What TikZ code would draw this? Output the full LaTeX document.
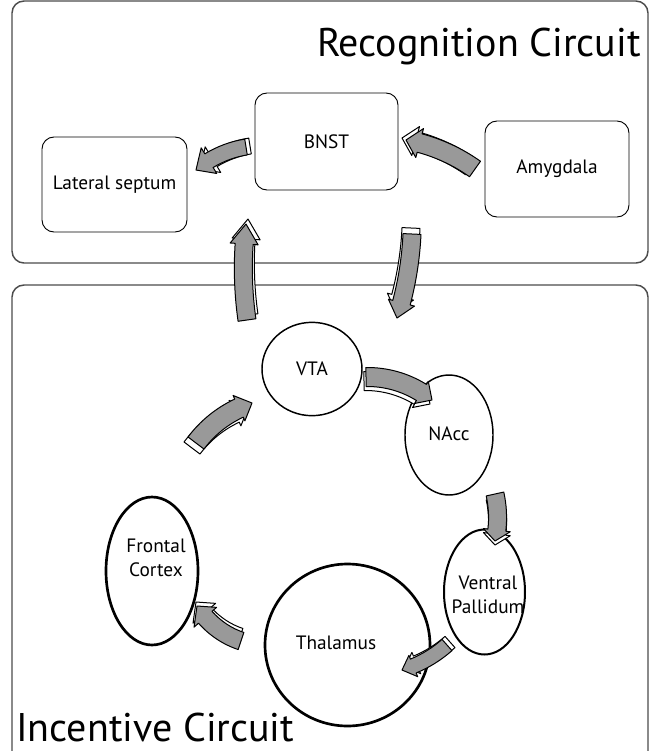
\documentclass[tikz,border=0pt]{standalone}
\usepackage{fontspec}
\setmainfont{PT Sans}
\usetikzlibrary{shapes.geometric}
\definecolor{arrgray}{HTML}{999999}
\tikzset{
  panel/.style={draw=black!70, line width=1.1pt, rounded corners=9pt},
  regbox/.style={draw=black, line width=0.7pt, rounded corners=9pt, fill=white, font=\fontsize{14.5}{17}\selectfont},
  region/.style={ellipse, draw=black, inner sep=0pt, fill=white},
  lbl/.style={font=\fontsize{14.5}{18.5}\selectfont, align=center, inner sep=0pt},
  title/.style={font=\fontsize{30}{34}\selectfont, inner sep=0pt},
  arrfront/.style={fill=arrgray, draw=black, line width=0.75pt, line join=round},
  arrback/.style={fill=white, draw=black, line width=0.75pt, line join=round}
}
% helper: draw arrow outline with centre #2,#3
\newcommand{\baDraw}[3]{%
  \pgfmathsetmacro\pAx{#2+\bro*cos(\baone)}\pgfmathsetmacro\pAy{#3+\bro*sin(\baone)}%
  \pgfmathsetmacro\pBx{#2+\bhro*cos(\bah)}\pgfmathsetmacro\pBy{#3+\bhro*sin(\bah)}%
  \pgfmathsetmacro\pCx{#2+\bR*cos(\batwo)}\pgfmathsetmacro\pCy{#3+\bR*sin(\batwo)}%
  \pgfmathsetmacro\pDx{#2+\bhri*cos(\bah)}\pgfmathsetmacro\pDy{#3+\bhri*sin(\bah)}%
  \pgfmathsetmacro\pEx{#2+\bri*cos(\bah)}\pgfmathsetmacro\pEy{#3+\bri*sin(\bah)}%
  \path[#1] (\pAx,\pAy) arc[start angle=\baone, end angle=\bah, radius=\bro]
    -- (\pBx,\pBy) -- (\pCx,\pCy) -- (\pDx,\pDy) -- (\pEx,\pEy)
    arc[start angle=\bah, end angle=\baone, radius=\bri] -- cycle;%
}
% block arrow: #1 Sx #2 Sy #3 Tx #4 Ty #5 turn #6 width #7 head width #8 head length #9 back offset {ox}{oy}
\newcommand{\blockarrow}[9]{%
  \pgfmathsetmacro\bsg{(#5>0)*2-1}%
  \pgfmathsetmacro\bdx{#3-#1}%
  \pgfmathsetmacro\bdy{#4-#2}%
  \pgfmathsetmacro\bL{sqrt(\bdx*\bdx+\bdy*\bdy)}%
  \pgfmathsetmacro\bux{\bdx/\bL}%
  \pgfmathsetmacro\buy{\bdy/\bL}%
  \pgfmathsetmacro\bR{\bL/(2*sin(abs(#5)/2))}%
  \pgfmathsetmacro\bh{\bR*cos(#5/2)*\bsg}%
  \pgfmathsetmacro\bcx{(#1+#3)/2-\bh*\buy}%
  \pgfmathsetmacro\bcy{(#2+#4)/2+\bh*\bux}%
  \pgfmathsetmacro\baone{atan2(#2-\bcy,#1-\bcx)}%
  \pgfmathsetmacro\batwo{\baone+#5}%
  \pgfmathsetmacro\bah{\batwo-\bsg*(#8/\bR)*57.2958}%
  \pgfmathsetmacro\bro{\bR+#6/2}%
  \pgfmathsetmacro\bri{\bR-#6/2}%
  \pgfmathsetmacro\bhro{\bR+#7/2}%
  \pgfmathsetmacro\bhri{\bR-#7/2}%
  \baoffset#9%
  \pgfmathsetmacro\bcxo{\bcx+\baox}%
  \pgfmathsetmacro\bcyo{\bcy+\baoy}%
  \baDraw{arrback}{\bcxo}{\bcyo}%
  \baDraw{arrfront}{\bcx}{\bcy}%
}
\newcommand{\baoffset}[2]{\def\baox{#1}\def\baoy{#2}}
\begin{document}
\begin{tikzpicture}[x=0.75pt, y=-0.75pt]
\useasboundingbox (0,0) rectangle (651,751);
\clip (0,0) rectangle (651,751);
\fill[white] (0,0) rectangle (651,751);

% panels
\draw[panel] (12,1) rectangle (648,263);
\draw[panel] (12,285) rectangle (648,790);
\node[title, anchor=base east] (trec) at (641,56) {Recognition Circuit};
\node[title, anchor=base west] (tinc) at (16,741) {Incentive Circuit};

% recognition boxes
\node[regbox, minimum width=108.75pt, minimum height=71.25pt] (ls) at (114.5,184.5) {Lateral septum};
\node[regbox, minimum width=107.25pt, minimum height=72.75pt] (bnst) at (326.5,141.5) {BNST};
\node[regbox, minimum width=108pt, minimum height=72pt] (amy) at (557,169) {Amygdala};

% incentive regions
\node[region, line width=1.1pt, minimum width=75pt, minimum height=70pt] (vta) at (312,369) {};
\node[region, line width=1.1pt, minimum width=66pt, minimum height=90pt] (nacc) at (449,435) {};
\node[region, line width=1.5pt, minimum width=60.75pt, minimum height=93.75pt] (vp) at (484.5,592) {};
\node[region, line width=2pt, minimum width=123.75pt, minimum height=121.5pt] (thal) at (347.5,645) {};
\node[region, line width=2pt, minimum width=69pt, minimum height=111pt] (fc) at (152,571) {};

\node[lbl] (tvta) at (312,369) {VTA};
\node[lbl] (tnacc) at (449,434) {NAcc};
\node[lbl] (tvp) at (488,595) {Ventral\\Pallidum};
\node[lbl] (tthal) at (336,643) {Thalamus};
\node[lbl] (tfc) at (156,558) {Frontal\\Cortex};

% block arrows
\blockarrow{246}{147}{196}{170}{-31}{16}{30}{16}{{4}{-1}}
\blockarrow{475}{169}{406}{140}{-25}{19}{30}{14}{{-4}{-2}}
\blockarrow{247}{320}{246}{224}{15}{18}{28}{20}{{2}{-5}}
\blockarrow{412}{234}{397}{318}{15}{18}{27}{16}{{-1}{-6}}
\blockarrow{366}{377}{432}{400}{40}{19}{26}{13}{{-2}{4}}
\blockarrow{196}{443}{252}{403}{35}{20}{28}{14}{{-4}{5}}
\blockarrow{495}{494}{495}{541}{25}{18}{27}{11}{{0}{4}}
\blockarrow{447}{645}{402}{670}{25}{15}{23}{12}{{3}{-3}}
\blockarrow{241}{641}{197}{606}{40}{18}{30}{14}{{-1}{-4}}
\end{tikzpicture}
\end{document}
